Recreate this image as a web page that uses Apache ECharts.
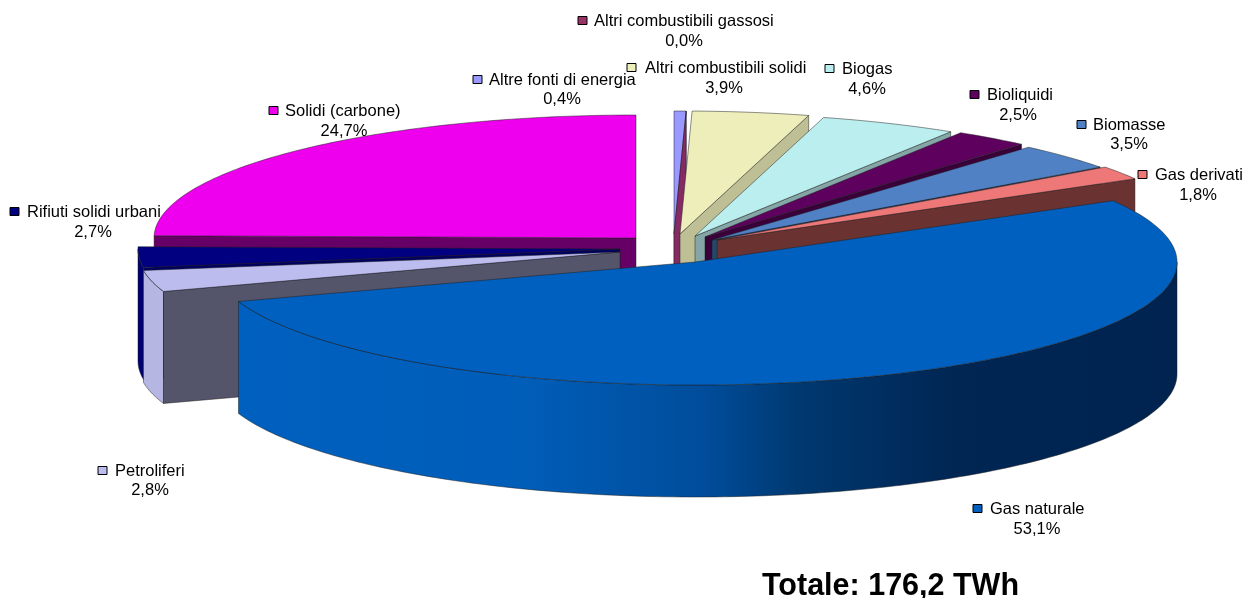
<!DOCTYPE html>
<html>
<head>
<meta charset="utf-8">
<title>Totale: 176,2 TWh</title>
<style>
  html, body { margin: 0; padding: 0; background: #fff; }
  #chart { width: 1246px; height: 598px; }
</style>
<script src="https://cdn.jsdelivr.net/npm/echarts@6/dist/echarts.min.js"></script>
</head>
<body>
<div id="chart"></div>
<script>
// clockwise from 12 o'clock, same order as the slices in the picture
const categories = [
  'Altre fonti di energia', 'Altri combustibili gassosi', 'Altri combustibili solidi',
  'Biogas', 'Bioliquidi', 'Biomasse', 'Gas derivati', 'Gas naturale',
  'Petroliferi', 'Rifiuti solidi urbani', 'Solidi (carbone)'
]
const shares = [0.4, 0.0, 3.9, 4.6, 2.5, 3.5, 1.8, 53.1, 2.8, 2.7, 24.7]
const totalLabel = 'Totale: 176,2 TWh'

// colours per slice
const topColors = ['#9999ff', '#993366', '#eeeebb', '#bbeeee', '#5e005e', '#4f81c4', '#ee7777', '#0060c0', '#bcbcee', '#000080', '#ee00ee']
const edgeColors = ['#5a5a99', '#852a63', '#bfbf96', '#84a6a6', '#3a003a', '#24486c', '#6b3232', '#003c7a', '#54546a', '#000060', '#660066']
const outerColors = ['#7a7acc', '#7a2952', '#bfbf96', '#96bebe', '#4b004b', '#3f679c', '#be5f5f', '#0060c0', '#b6b6e2', '#000070', '#be00be']

// where each exploded slice has its tip
const tips = [[674, 234], [674, 234], [680, 234], [695, 236], [705, 237], [712, 240], [717, 240], [695, 262], [620, 252], [620, 249], [636, 238]]
const rx = 482
const ry = 123
const depth = 112
const drawOrder = [0, 1, 2, 3, 4, 5, 6, 10, 9, 8, 7]

// label layout: swatch x, name x, name y, value centre x, value y
const labelLayout = [
  [473, 489, 80, 562, 99], [578, 594, 21, 684, 41], [627, 645, 68, 724, 88],
  [825, 842, 69, 867, 89], [970, 987, 95, 1018, 115], [1077, 1093, 125, 1129, 144],
  [1138, 1155, 175, 1198, 195], [973, 990, 509, 1037, 529], [98, 115, 471, 150, 490],
  [10, 27, 212, 93, 232], [269, 285, 111, 344, 131]
]

const total = shares.reduce((a, b) => a + b, 0)
const startAngles = []
let sum = 0
shares.forEach(v => {
  startAngles.push(sum / total * 360)
  sum += v
})

const rimPoint = (tip, deg, drop) => {
  const a = deg * Math.PI / 180
  return [tip[0] + rx * Math.sin(a), tip[1] - ry * Math.cos(a) + (drop || 0)]
}

const arc = (tip, from, to, drop) => {
  const pts = []
  const steps = Math.max(1, Math.ceil(to - from))
  for (let i = 0; i <= steps; i++) {
    pts.push(rimPoint(tip, from + (to - from) * i / steps, drop))
  }
  return pts
}

const lineStyle = { stroke: 'rgba(30,30,30,0.7)', lineWidth: 0.7 }

const poly = (points, fill, z2) => ({
  type: 'polygon',
  z2: z2,
  shape: { points: points },
  style: Object.assign({ fill: fill }, lineStyle)
})

const renderSlice = (params, api) => {
  const i = params.dataIndex
  const value = api.value(0)
  const tip = tips[i]
  const a0 = startAngles[i]
  const a1 = a0 + value / total * 360
  const z = drawOrder[i] * 4
  const children = []

  // outer wall, only the part that faces the viewer
  const from = Math.max(a0, 90)
  const to = Math.min(a1, 270)
  if (to > from) {
    let fill = outerColors[i]
    if (i === 7) {
      fill = new echarts.graphic.LinearGradient(0, 0, 1, 0, [
        { offset: 0, color: '#0060bf' },
        { offset: 0.3, color: '#005eb9' },
        { offset: 0.5, color: '#004c9a' },
        { offset: 0.6, color: '#00386f' },
        { offset: 0.76, color: '#002654' },
        { offset: 1, color: '#002350' }
      ])
    }
    children.push(poly(arc(tip, from, to).concat(arc(tip, from, to, depth).reverse()), fill, z))
  }

  // cut face
  const edge = a1 > 0 && a1 < 180 ? a1 : (a0 > 180 && a0 < 360 ? a0 : null)
  if (edge !== null) {
    const r0 = rimPoint(tip, edge)
    const r1 = rimPoint(tip, edge, depth)
    children.push(poly([tip, r0, r1, [tip[0], tip[1] + depth]], edgeColors[i], z + 1))
  }

  // top
  if (value > 0) {
    children.push(poly([tip].concat(arc(tip, a0, a1)), topColors[i], z + 2))
  }

  // label
  const lay = labelLayout[i]
  const font = { fontFamily: 'Liberation Sans, Arial, sans-serif', fontSize: 16.5, fill: '#000' }
  children.push({
    type: 'rect',
    z2: 100,
    shape: { x: lay[0], y: lay[2] - 4.5, width: 9, height: 8 },
    style: { fill: topColors[i], stroke: '#000', lineWidth: 1 }
  })
  children.push({
    type: 'text',
    z2: 101,
    style: Object.assign({
      x: lay[1], y: lay[2], text: categories[i], align: 'left', verticalAlign: 'middle'
    }, font)
  })
  children.push({
    type: 'text',
    z2: 101,
    style: Object.assign({
      x: lay[3], y: lay[4], text: value.toFixed(1).replace('.', ',') + '%', align: 'center', verticalAlign: 'middle'
    }, font)
  })

  return { type: 'group', children: children }
}

const chart = echarts.init(document.getElementById('chart'))

chart.setOption({
  animation: false,
  backgroundColor: '#fff',
  title: {
    text: totalLabel,
    left: 762,
    top: 571,
    padding: 0,
    textStyle: {
      fontFamily: 'Liberation Sans, Arial, sans-serif',
      fontSize: 30.5,
      fontWeight: 'bold',
      color: '#000'
    }
  },
  series: [
    {
      type: 'custom',
      coordinateSystem: 'none',
      silent: true,
      renderItem: renderSlice,
      data: shares
    }
  ]
})
</script>
</body>
</html>
